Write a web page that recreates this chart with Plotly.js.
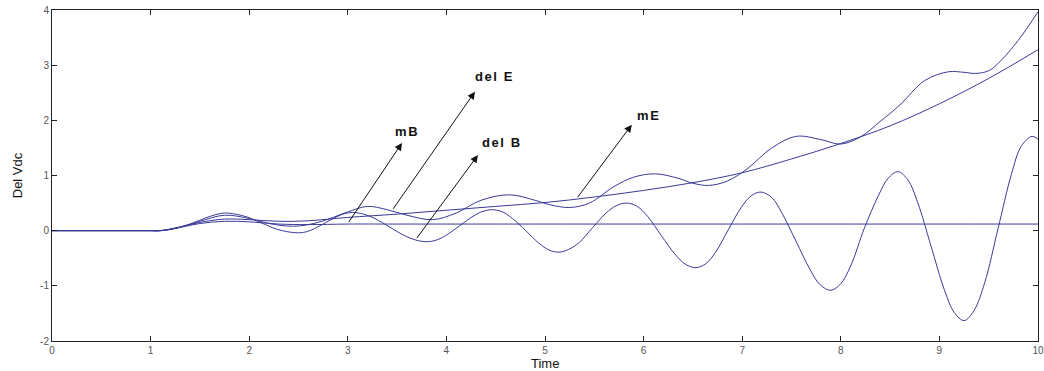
<!DOCTYPE html>
<html>
<head>
<meta charset="utf-8">
<script src="https://cdn.plot.ly/plotly-3.0.1.min.js"></script>
<style>
  html, body { margin: 0; padding: 0; background: #ffffff; }
  #chart { width: 1044px; height: 371px; }
</style>
</head>
<body>
<div id="chart"></div>
<script>
// Smooth exponential trend (mE)
const mE_t = [0, 0.9, 1.0, 1.1, 1.3, 1.5, 1.75, 2.0, 2.3, 2.6, 3.0, 3.5, 4.0, 4.5, 5.0, 5.5, 6.0, 6.5, 7.0, 7.5, 8.0, 8.5, 9.0, 9.5, 10.0];
const mE_v = [0, 0, 0, 0, 0.07, 0.15, 0.21, 0.2, 0.17, 0.18, 0.24, 0.3, 0.37, 0.44, 0.51, 0.61, 0.73, 0.87, 1.05, 1.3, 1.58, 1.9, 2.3, 2.76, 3.28];

// Oscillation riding on the trend (del E)
const delE_t = [0, 0.9, 1.0, 1.1, 1.3, 1.5, 1.75, 2.0, 2.2, 2.45, 2.7, 3.0, 3.2, 3.4, 3.6, 3.86, 4.1, 4.35, 4.64, 4.9, 5.05, 5.25, 5.45, 5.7, 5.9, 6.12, 6.35, 6.5, 6.66, 6.85, 7.05, 7.3, 7.55, 7.8, 8.0, 8.2, 8.4, 8.6, 8.85, 9.09, 9.25, 9.37, 9.5, 9.6, 9.8, 10.0];
const delE_v = [0, 0, 0, 0, 0.06, 0.17, 0.28, 0.22, 0.13, 0.08, 0.15, 0.34, 0.44, 0.38, 0.28, 0.2, 0.32, 0.55, 0.65, 0.55, 0.47, 0.42, 0.5, 0.8, 0.97, 1.03, 0.95, 0.86, 0.82, 0.9, 1.12, 1.5, 1.71, 1.65, 1.57, 1.7, 1.98, 2.28, 2.72, 2.88, 2.87, 2.85, 2.9, 3.04, 3.45, 3.97];

// Growing oscillation about the baseline (del B)
const delB_t = [0, 0.9, 1.0, 1.1, 1.2, 1.35, 1.5, 1.62, 1.75,
  1.86, 1.975, 2.125, 2.275, 2.39, 2.5,
  2.58, 2.665, 2.775, 2.885, 2.97, 3.05,
  3.16, 3.275, 3.425, 3.575, 3.69, 3.8,
  3.9, 4.0, 4.135, 4.27, 4.37, 4.47,
  4.57, 4.67, 4.805, 4.94, 5.04, 5.14,
  5.24, 5.35, 5.485, 5.62, 5.72, 5.83,
  5.935, 6.04, 6.18, 6.32, 6.425, 6.53,
  6.63, 6.73, 6.86, 6.99, 7.09, 7.19,
  7.3, 7.4, 7.545, 7.69, 7.79, 7.9,
  8.0, 8.1, 8.24, 8.38, 8.48, 8.58,
  8.68, 8.78, 8.915, 9.05, 9.15, 9.25,
  9.35, 9.46, 9.595, 9.73, 9.83, 9.94, 10.0];
const delB_v = [0, 0, 0, 0, 0.02, 0.09, 0.19, 0.27, 0.32,
  0.3, 0.25, 0.14, 0.03, -0.02, -0.04,
  -0.02, 0.04, 0.145, 0.25, 0.31, 0.33,
  0.3, 0.22, 0.065, -0.09, -0.17, -0.2,
  -0.17, -0.08, 0.09, 0.26, 0.35, 0.38,
  0.34, 0.22, 0.0, -0.23, -0.35, -0.39,
  -0.34, -0.21, 0.06, 0.32, 0.45, 0.5,
  0.44, 0.26, -0.09, -0.43, -0.61, -0.67,
  -0.6, -0.39, 0.02, 0.42, 0.63, 0.7,
  0.6, 0.33, -0.19, -0.71, -0.98, -1.08,
  -0.96, -0.64, 0.05, 0.63, 0.95, 1.07,
  0.92, 0.51, -0.28, -1.07, -1.48, -1.63,
  -1.45, -0.94, 0.04, 1.02, 1.53, 1.71, 1.66];

// Settled baseline (mB)
const mB_t = [0, 0.9, 1.0, 1.1, 1.3, 1.5, 1.75, 2.0, 2.3, 2.6, 3.0, 3.5, 10.0];
const mB_v = [0, 0, 0, 0, 0.06, 0.13, 0.17, 0.16, 0.12, 0.11, 0.12, 0.12, 0.12];

// Axis ticks
const xTicks = [0, 1, 2, 3, 4, 5, 6, 7, 8, 9, 10];
const yTicks = [-2, -1, 0, 1, 2, 3, 4];

// Callout labels: text, label position, arrow head, arrow tail
const labelText = ['mB', 'del E', 'del B', 'mE'];
const labelX = [3.6, 4.49, 4.56, 6.05];
const labelY = [1.8, 2.8, 1.59, 2.08];
const headX = [3.55, 4.29, 4.32, 5.88];
const headY = [1.59, 2.52, 1.37, 1.92];
const tailX = [3.0, 3.45, 3.69, 5.32];
const tailY = [0.13, 0.37, -0.16, 0.58];

const lineColor = '#3a3a98';
const series = [
  [mE_t, mE_v, 'mE'],
  [delE_t, delE_v, 'del E'],
  [delB_t, delB_v, 'del B'],
  [mB_t, mB_v, 'mB']
];
const traces = series.map(([t, v, name]) => ({
  x: t, y: v, name: name, type: 'scatter', mode: 'lines',
  line: { color: lineColor, width: 1, shape: 'spline', smoothing: 1 },
  hoverinfo: 'skip'
}));

const annotations = [];
labelText.forEach((txt, i) => {
  annotations.push({
    x: headX[i], y: headY[i], xref: 'x', yref: 'y',
    ax: tailX[i], ay: tailY[i], axref: 'x', ayref: 'y',
    text: '', showarrow: true, arrowhead: 2, arrowsize: 1.5,
    arrowwidth: 1, arrowcolor: '#111111', standoff: 0, startstandoff: 0
  });
  annotations.push({
    x: labelX[i], y: labelY[i], xref: 'x', yref: 'y',
    text: '<b><span style="letter-spacing:1.6px">' + txt + '</span></b>', showarrow: false,
    xanchor: 'center', yanchor: 'middle',
    font: { family: 'Liberation Sans, Arial, sans-serif', size: 13, color: '#111111' }
  });
});

// x-axis caption, set under the tick labels
annotations.push({
  x: 0.5, y: -0.094, xref: 'paper', yref: 'paper', xanchor: 'center', yanchor: 'bottom',
  text: 'Time', showarrow: false, borderpad: 0,
  font: { family: 'Liberation Sans, Arial, sans-serif', size: 13, color: '#111111' }
});

const axisCommon = {
  showgrid: false, zeroline: false, showline: true, linecolor: '#222222', linewidth: 1,
  mirror: 'ticks', ticks: 'inside', ticklen: 5, tickcolor: '#222222', tickwidth: 1,
  ticklabeloverflow: 'allow',
  tickfont: { family: 'Liberation Sans Narrow, Liberation Sans, Arial, sans-serif', size: 10, color: '#555555' }
};

const layout = {
  width: 1044, height: 371,
  margin: { l: 52, r: 6, t: 10, b: 30, pad: 0 },
  paper_bgcolor: '#ffffff', plot_bgcolor: '#ffffff',
  showlegend: false,
  xaxis: Object.assign({}, axisCommon, {
    range: [0, 10], tickvals: xTicks, ticktext: xTicks.map(String)
  }),
  yaxis: Object.assign({}, axisCommon, {
    range: [-2, 4], tickvals: yTicks, ticktext: yTicks.map(String),
    title: { text: 'Del Vdc', standoff: 14,
      font: { family: 'Liberation Sans Narrow, Liberation Sans, Arial, sans-serif', size: 13, color: '#111111' } }
  }),
  annotations: annotations
};

Plotly.newPlot('chart', traces, layout, { staticPlot: true, displayModeBar: false });
</script>
</body>
</html>
